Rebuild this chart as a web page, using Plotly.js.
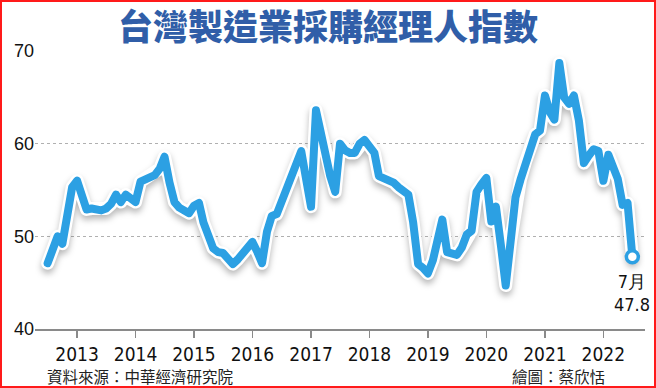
<!DOCTYPE html>
<html><head><meta charset="utf-8">
<script src="https://cdn.plot.ly/plotly-3.0.1.min.js"></script>
<style>
html,body{margin:0;padding:0;background:#fff;}
#wrap{position:relative;width:656px;height:388px;overflow:hidden;}
#chart{width:656px;height:388px;}
#frame{position:absolute;left:0;top:0;width:656px;height:388px;box-sizing:border-box;border:2px solid #ff1a1a;pointer-events:none;}
.scatterlayer path.js-line{stroke-linejoin:round;stroke-linecap:round;}
</style></head><body>
<div id="wrap"><div id="chart"></div><div id="frame"></div></div>
<script>
// Monthly PMI values, July 2012 .. July 2022
const startYear = 2012, startMonth = 7;
const pmi2012 = [47.1, 48.4, 50.0, 49.2, 53.0, 55.3];
const pmi2013 = [56.0, 54.6, 52.9, 53.0, 52.9, 52.8, 53.0, 53.5, 54.5, 53.7, 54.5, 54.0];
const pmi2014 = [53.7, 55.9, 56.2, 56.5, 56.6, 57.3, 58.6, 55.8, 53.7, 53.1, 52.8, 52.5];
const pmi2015 = [53.3, 53.6, 51.5, 49.8, 48.7, 48.3, 48.2, 47.6, 47.0, 47.5, 48.1, 48.7];
const pmi2016 = [49.4, 48.3, 47.1, 50.5, 52.2, 52.4, 53.7, 55.3, 56.3, 57.8, 59.2, 56.2];
const pmi2017 = [53.2, 63.6, 61.3, 58.7, 56.5, 54.8, 60.0, 59.3, 59.0, 59.0, 60.0, 60.4];
const pmi2018 = [59.8, 59.0, 56.5, 56.3, 56.1, 55.8, 55.3, 55.0, 54.5, 51.5, 47.0, 46.6];
const pmi2019 = [46.0, 47.4, 49.3, 51.8, 48.3, 48.1, 48.0, 48.8, 50.2, 50.6, 54.8, 55.6];
const pmi2020 = [56.3, 51.6, 53.2, 49.0, 44.7, 49.5, 54.2, 56.1, 58.0, 59.6, 61.0, 61.4];
const pmi2021 = [65.2, 63.4, 62.6, 68.7, 65.0, 64.3, 65.2, 62.5, 57.9, 58.7, 59.4, 59.2];
const pmi2022 = [56.0, 58.8, 57.5, 56.2, 53.4, 53.6, 47.8];
const yearTicks = ['2013','2014','2015','2016','2017','2018','2019','2020','2021','2022'];
const yTicks = [40, 50, 60, 70];
const titleText = '台灣製造業採購經理人指數';
const sourceText = '資料來源：中華經濟研究院';
const creditText = '繪圖：蔡欣恬';
const lastLabel = '7月';

const values = [].concat(pmi2012, pmi2013, pmi2014, pmi2015, pmi2016, pmi2017, pmi2018, pmi2019, pmi2020, pmi2021, pmi2022);
const dates = values.map((v, i) => {
  const t = (startMonth - 1) + i;
  const y = startYear + Math.floor(t / 12);
  const m = (t % 12) + 1;
  return y + '-' + String(m).padStart(2, '0') + '-01';
});
const lastX = dates[dates.length - 1], lastY = values[values.length - 1];

const blue = '#2ca0e3';
const numFont = '"Liberation Sans Narrow", "DejaVu Sans Condensed", "Liberation Sans", Arial, sans-serif';
const yFont = '"Liberation Sans", Arial, sans-serif';
const cjk = '"Noto Sans CJK TC", "Noto Sans CJK SC", sans-serif';

const traces = [
  {x: dates, y: values, type: 'scatter', mode: 'lines', line: {color: '#ffffff', width: 13, shape: 'linear'}, hoverinfo: 'skip', cliponaxis: false},
  {x: dates, y: values, type: 'scatter', mode: 'lines', line: {color: blue, width: 8, shape: 'linear'}, hoverinfo: 'skip', cliponaxis: false},
  {x: [lastX], y: [lastY], type: 'scatter', mode: 'markers', marker: {size: 12, color: '#ffffff', line: {color: blue, width: 3.5}}, cliponaxis: false}
];

const layout = {
  width: 656, height: 388,
  margin: {l: 35, r: 11, t: 51, b: 59},
  paper_bgcolor: '#ffffff', plot_bgcolor: '#ffffff',
  showlegend: false,
  title: {text: titleText, font: {family: cjk, size: 35, weight: 900, color: '#305ea8'}, xref: 'container', x: 0.5, xanchor: 'center', yref: 'container', y: 0.928, yanchor: 'middle'},
  xaxis: {
    type: 'date', range: ['2012-04-13', '2022-09-18'],
    tickmode: 'array', tickvals: yearTicks.map(y => y + '-01-01'), ticktext: yearTicks,
    ticks: 'outside', ticklen: 7, tickwidth: 1.5, tickcolor: '#8a8a8a',
    showline: true, linecolor: '#8a8a8a', linewidth: 2,
    showgrid: false, zeroline: false,
    tickfont: {family: numFont, size: 19, color: '#111'}
  },
  yaxis: {
    range: [40, 70], tickmode: 'array', tickvals: yTicks, ticktext: yTicks.map(String),
    showgrid: true, gridcolor: '#b0b0b0', gridwidth: 1, griddash: '3px,3px',
    zeroline: false, showline: false, ticks: '',
    tickfont: {family: yFont, size: 18, color: '#111'}
  },
  annotations: [
    {xref: 'x', yref: 'y', x: lastX, y: lastY, text: lastLabel + '<br>' + lastY.toFixed(1), showarrow: false, xanchor: 'center', yanchor: 'top', yshift: -12, align: 'center', font: {family: numFont, size: 18, color: '#111'}},
    {xref: 'paper', yref: 'paper', x: 0.016, y: -0.168, xanchor: 'left', yanchor: 'middle', text: sourceText, showarrow: false, font: {family: cjk, size: 15.5, color: '#222'}},
    {xref: 'paper', yref: 'paper', x: 0.938, y: -0.168, xanchor: 'right', yanchor: 'middle', text: creditText, showarrow: false, font: {family: cjk, size: 15.5, color: '#222'}}
  ]
};

Plotly.newPlot('chart', traces, layout, {displayModeBar: false, staticPlot: true}).then(() => {
  const tr = document.querySelectorAll('.scatterlayer .trace');
  tr.forEach(t => {
    const p = t.querySelector('path.js-line');
    if (p) { p.style.strokeLinejoin = 'round'; p.style.strokeLinecap = 'round'; }
  });
  if (tr[0]) {
    const p = tr[0].querySelector('path.js-line');
    if (p) p.style.filter = 'drop-shadow(0px 4px 3px rgba(0,0,0,0.28))';
  }
});
</script>
</body></html>
